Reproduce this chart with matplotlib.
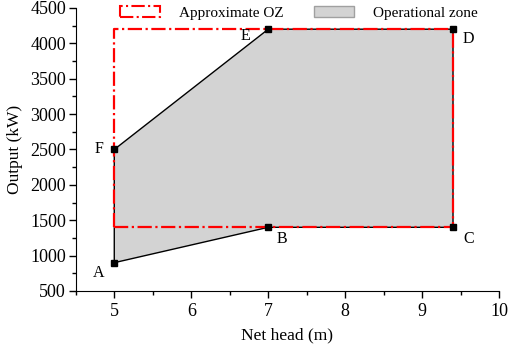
import matplotlib
matplotlib.use("Agg")
import matplotlib.pyplot as plt
from matplotlib.patches import Polygon, Patch

plt.rcParams['font.family'] = ['Liberation Serif', 'DejaVu Serif']

labels = ['A', 'B', 'C', 'D', 'E', 'F']
head = [5.0, 7.0, 9.4, 9.4, 7.0, 5.0]
output = [900, 1400, 1400, 4200, 4200, 2500]
oz_head = [5.0, 9.4]
oz_output = [1400, 4200]

fig = plt.figure(figsize=(5.12, 3.46), dpi=100)
ax = fig.add_axes([0.148, 0.159, 0.827, 0.818])

poly = Polygon(list(zip(head, output)), closed=True, facecolor='#d3d3d3',
               edgecolor='black', linewidth=1.0, zorder=1)
ax.add_patch(poly)
ax.plot(head, output, 's', color='black', markersize=5, zorder=4)

rx = [oz_head[0], oz_head[1], oz_head[1], oz_head[0], oz_head[0]]
ry = [oz_output[0], oz_output[0], oz_output[1], oz_output[1], oz_output[0]]
ax.plot(rx, ry, color='red', linestyle='-.', linewidth=1.6, zorder=3)

offsets = {'A': (-0.2, -140), 'B': (0.18, -170), 'C': (0.2, -170),
           'D': (0.2, -140), 'E': (-0.3, -90), 'F': (-0.2, 0)}
for l, x, y in zip(labels, head, output):
    dx, dy = offsets[l]
    ax.text(x + dx, y + dy, l, ha='center', va='center', fontsize=11.5)

ax.set_xlim(4.5, 10)
ax.set_ylim(500, 4500)
ax.set_xticks([5, 6, 7, 8, 9, 10])
ax.set_yticks(range(500, 4501, 500))
ax.set_xticks([4.5 + 0.5 * i for i in range(12)], minor=True)
ax.set_yticks(range(500, 4501, 250), minor=True)
ax.tick_params(direction='out', labelsize=13, length=5, width=1)
ax.tick_params(axis='x', pad=4)
ax.tick_params(axis='y', pad=2)
ax.tick_params(which='minor', direction='out', length=3, width=1)
for s in ['top', 'right']:
    ax.spines[s].set_visible(False)
ax.set_xlabel('Net head (m)', fontsize=12.5, labelpad=5)
ax.set_ylabel('Output (kW)', fontsize=12.5, labelpad=5)

h1 = Patch(facecolor='white', edgecolor='red', linestyle='-.', linewidth=1.5)
h2 = Patch(facecolor='#d3d3d3', edgecolor='#a0a0a0', linewidth=1.0)
ax.legend([h1, h2], ['Approximate OZ', 'Operational zone'], ncol=2, frameon=False,
          loc='upper left', bbox_to_anchor=(0.104, 1.008), fontsize=11,
          borderpad=0, borderaxespad=0,
          columnspacing=2.0, handlelength=2.6, handleheight=0.8, handletextpad=1.25)

fig.savefig('out.png', dpi=100)
